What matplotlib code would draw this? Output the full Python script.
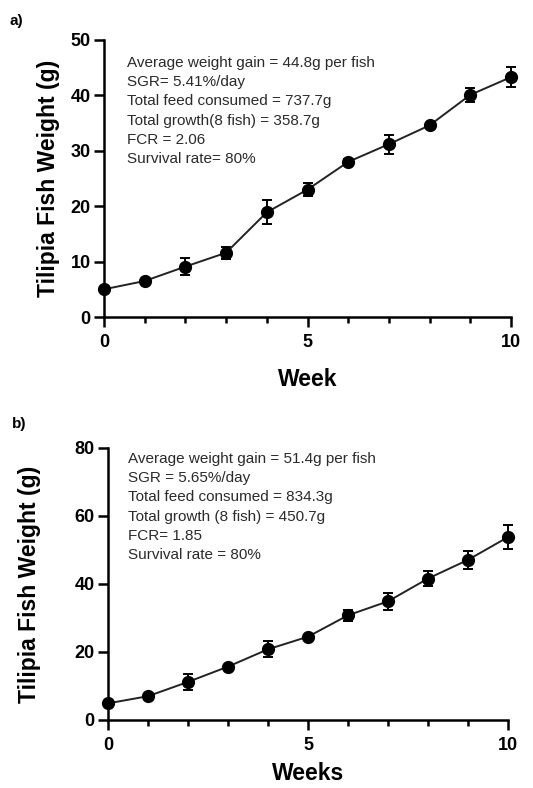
import numpy as np
import matplotlib
matplotlib.use("Agg")
import matplotlib.pyplot as plt
from matplotlib.ticker import MultipleLocator

plt.rcParams['font.family'] = ['Liberation Sans', 'DejaVu Sans']

# data
weeks = [0, 1, 2, 3, 4, 5, 6, 7, 8, 9, 10]
weight_a = [5.0, 6.5, 9.1, 11.6, 18.9, 23.0, 28.0, 31.2, 34.6, 40.1, 43.3]
err_a = [0.3, 0.4, 1.6, 1.1, 2.2, 1.2, 0.5, 1.7, 0.5, 1.3, 1.8]
weight_b = [4.9, 7.0, 11.2, 15.7, 20.8, 24.5, 30.8, 34.9, 41.6, 47.1, 53.8]
err_b = [0.4, 0.5, 2.3, 0.6, 2.3, 0.6, 1.7, 2.6, 2.2, 2.7, 3.5]

text_a = ["Average weight gain = 44.8g per fish",
          "SGR= 5.41%/day",
          "Total feed consumed = 737.7g",
          "Total growth(8 fish) = 358.7g",
          "FCR = 2.06",
          "Survival rate= 80%"]
text_b = ["Average weight gain = 51.4g per fish",
          "SGR = 5.65%/day",
          "Total feed consumed = 834.3g",
          "Total growth (8 fish) = 450.7g",
          "FCR= 1.85",
          "Survival rate = 80%"]

W, H = 533, 788
fig = plt.figure(figsize=(W / 100, H / 100), dpi=100)


def panel(rect, y, e, ymax, ystep, lines, xlabel, tag, tagpos, ylab_x, xlab_y, txt_pos):
    l, t, r, b = rect
    ax = fig.add_axes([l / W, 1 - b / H, (r - l) / W, (b - t) / H])
    ax.errorbar(weeks, y, yerr=e, color='#222222', lw=1.4, marker='o', ms=8.5,
                mfc='black', mec='black', ecolor='black', elinewidth=1.4,
                capsize=3.5, capthick=1.4, clip_on=False, zorder=3)
    ax.set_xlim(0, 10)
    ax.set_ylim(0, ymax)
    ax.xaxis.set_major_locator(MultipleLocator(5))
    ax.xaxis.set_minor_locator(MultipleLocator(1))
    ax.yaxis.set_major_locator(MultipleLocator(ystep))
    for s in ['top', 'right']:
        ax.spines[s].set_visible(False)
    for s in ['left', 'bottom']:
        ax.spines[s].set_linewidth(1.8)
    ax.tick_params(which='major', direction='out', width=1.8, length=7.5)
    ax.tick_params(which='minor', direction='out', width=1.8, length=4.5)
    ax.tick_params(axis='x', pad=5)
    ax.tick_params(axis='y', pad=2)
    for lab in ax.get_xticklabels() + ax.get_yticklabels():
        lab.set_fontsize(13)
        lab.set_fontweight('bold')
    ax.set_ylabel("Tilipia Fish Weight (g)", fontsize=16.5, fontweight='bold')
    ax.yaxis.set_label_coords(ylab_x, 0.5)
    ax.set_xlabel(xlabel, fontsize=16.5, fontweight='bold')
    ax.xaxis.set_label_coords(0.5, xlab_y)
    for i, s in enumerate(lines):
        fig.text(txt_pos[0] / W, 1 - (txt_pos[1] + i * 19.2) / H, s,
                 fontsize=11, color='#2a2a2a', va='center', ha='left')
    fig.text(tagpos[0] / W, 1 - tagpos[1] / H, tag, fontsize=11,
             fontweight='bold', va='center', ha='left')
    return ax


panel((104, 40, 511, 317), weight_a, err_a, 50, 10, text_a, "Week", "a)",
      (9, 21), -0.107, -0.185, (127, 63))
panel((108, 448, 508, 720), weight_b, err_b, 80, 20, text_b, "Weeks", "b)",
      (12, 424), -0.168, -0.155, (128, 459))

fig.savefig("out.png", dpi=100)
